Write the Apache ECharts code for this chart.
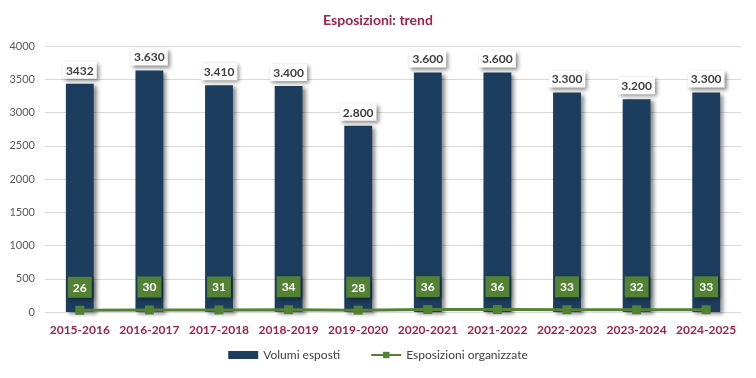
<!DOCTYPE html>
<html><head><meta charset="utf-8">
<script src="https://cdn.jsdelivr.net/npm/echarts@6/dist/echarts.min.js"></script>
<style>html,body{margin:0;padding:0;background:#fff}#c{width:756px;height:378px}</style>
</head><body><div id="c"></div>
<script>
const categories = ['2015-2016','2016-2017','2017-2018','2018-2019','2019-2020','2020-2021','2021-2022','2022-2023','2023-2024','2024-2025'];
const volumi = [3432,3630,3410,3400,2800,3600,3600,3300,3200,3300];
const volumiLabels = ['3432','3.630','3.410','3.400','2.800','3.600','3.600','3.300','3.200','3.300'];
const esposizioni = [26,30,31,34,28,36,36,33,32,33];
const yTicks = [0,500,1000,1500,2000,2500,3000,3500,4000];

const FONT = 'Lato, "Open Sans", sans-serif';
const chart = echarts.init(document.getElementById('c'));
chart.setOption({
  animation: false,
  textStyle: {fontFamily: FONT},
  title: {text: 'Esposizioni: trend', left: 'center', top: 8,
    textStyle: {fontFamily: FONT, fontSize: 14, fontWeight: 'bold', color: '#A3214A'}},
  grid: {left: 45, right: 15, top: 46, bottom: 66, containLabel: false},
  legend: {bottom: 12, left: 'center', itemGap: 30, itemWidth: 30, itemHeight: 8,
    textStyle: {fontFamily: FONT, fontSize: 12, color: '#404040'},
    data: [{name: 'Volumi esposti', icon: 'rect'}, {name: 'Esposizioni organizzate'}]},
  xAxis: {type: 'category', data: categories,
    axisLine: {show: false}, axisTick: {show: false},
    axisLabel: {interval: 0, color: '#A3214A', fontWeight: 'bold', fontSize: 12, margin: 12, fontFamily: FONT}},
  yAxis: {type: 'value', min: yTicks[0], max: yTicks[yTicks.length-1], interval: 500,
    axisLine: {show: false}, axisTick: {show: false},
    axisLabel: {color: '#595959', fontSize: 11, margin: 10, fontFamily: FONT, formatter: v => String(v)},
    splitLine: {lineStyle: {color: '#D9D9D9', width: 1}}},
  series: [
    {name: 'Volumi esposti', type: 'bar', data: volumi, barWidth: '40%',
      itemStyle: {color: '#1C3D5E', shadowBlur: 4, shadowColor: 'rgba(0,0,0,0.45)', shadowOffsetX: 3, shadowOffsetY: 2},
      label: {show: true, position: 'top', distance: 5,
        formatter: p => volumiLabels[p.dataIndex],
        color: '#404040', fontWeight: 'bold', fontSize: 12, fontFamily: FONT,
        backgroundColor: '#fff', padding: [3, 3, 2, 3],
        shadowBlur: 4, shadowColor: 'rgba(0,0,0,0.45)', shadowOffsetX: 2, shadowOffsetY: 2}},
    {name: 'Esposizioni organizzate', type: 'line', data: esposizioni,
      symbol: 'rect', symbolSize: 9,
      lineStyle: {color: '#548235', width: 3},
      itemStyle: {color: '#548235'},
      label: {show: true, position: 'top', distance: 8,
        color: '#fff', fontWeight: 'bold', fontSize: 12, fontFamily: FONT,
        backgroundColor: '#548235', padding: [5, 5, 4, 5],
        shadowBlur: 4, shadowColor: 'rgba(0,0,0,0.4)', shadowOffsetX: 2, shadowOffsetY: 2}}
  ]
});
</script></body></html>
